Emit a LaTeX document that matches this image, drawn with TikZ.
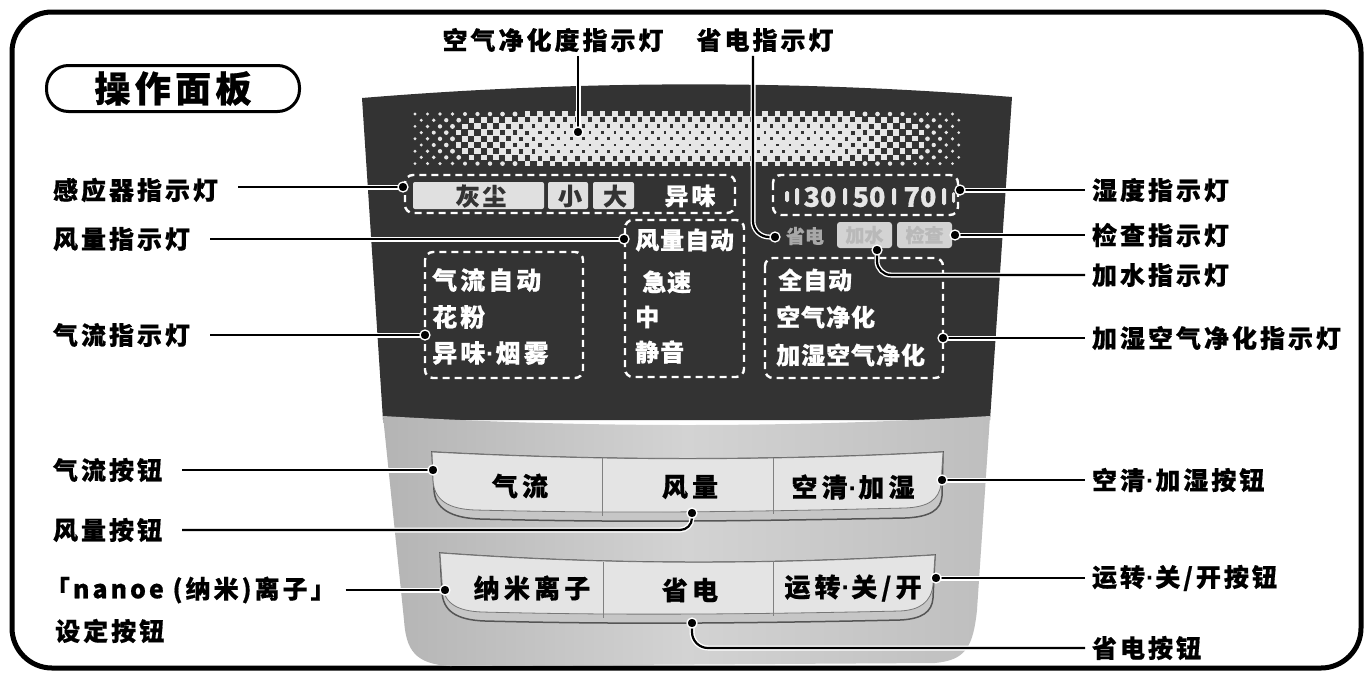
\documentclass[tikz,border=0pt]{standalone}
\usepackage{fontspec}
\setmainfont{Noto Sans CJK SC}[BoldFeatures={FakeBold=0.6}]
\newfontfamily\labfont{Noto Sans CJK SC}[LetterSpace=12,BoldFeatures={FakeBold=0.6}]
\newfontfamily\btnfont{Noto Sans CJK SC}[LetterSpace=16,BoldFeatures={FakeBold=0.6}]
\newfontfamily\panfont{Noto Sans CJK SC}[LetterSpace=4,BoldFeatures={FakeBold=0.6}]
\newfontfamily\titfont{Noto Sans CJK SC}[LetterSpace=12,BoldFeatures={FakeBold=0.8}]
\newfontfamily\dotfont{Liberation Sans}
\newcommand\md{{\dotfont\bfseries\kern1pt·\kern1pt}}
\definecolor{panelc}{HTML}{333333}
\definecolor{dotc}{HTML}{E6E6E6}
\definecolor{lightbox}{HTML}{E0E0E0}
\definecolor{greybox}{HTML}{D3D3D3}
\definecolor{greytxt}{HTML}{B9B9B9}
\definecolor{ecotxt}{HTML}{A8A8A8}
\definecolor{facec}{HTML}{E4E4E4}
\definecolor{lipc}{HTML}{C6C6C6}
\definecolor{lipedge}{HTML}{555555}
\definecolor{faceedge}{HTML}{777777}
\definecolor{grayL}{HTML}{B4B4B4}
\definecolor{grayM}{HTML}{D3D3D3}
\definecolor{grayR}{HTML}{BEBEBE}
\begin{document}
\begin{tikzpicture}[x=1pt,y=-1pt,
  lab/.style={font=\labfont\bfseries\fontsize{25}{30}\selectfont, inner sep=0pt},
  llab/.style={lab, anchor=west, outer xsep=20pt},
  rlab/.style={lab, anchor=west, outer xsep=7pt},
  tlab/.style={lab, outer ysep=4pt},
  conn/.style={line width=2.2pt, black, preaction={draw=white, line width=5pt}},
  dotn/.style={circle, fill=black, draw=white, line width=1.3pt, minimum size=10pt, inner sep=0pt},
  dbox/.style={draw=white, line width=2.4pt, dash pattern=on 7pt off 5pt, rounded corners=8pt},
  pan/.style={font=\panfont\bfseries\fontsize{24}{28}\selectfont, text=white, inner sep=0pt, anchor=west},
  pan26/.style={font=\labfont\bfseries\fontsize{25}{28}\selectfont, text=white, inner sep=0pt, anchor=west},
  sens/.style={font=\labfont\bfseries\fontsize{24}{28}\selectfont, inner sep=0pt},
  btn/.style={font=\btnfont\bfseries\fontsize{26}{30}\selectfont, inner sep=0pt, text=black},
  small/.style={font=\bfseries\fontsize{19}{22}\selectfont, inner sep=0pt},
  digit/.style={font=\bfseries\fontsize{27}{28}\selectfont, text=dotc, inner sep=0pt},
  facest/.style={fill=facec, draw=faceedge, line width=0.8pt},
  lipst/.style={fill=lipc, draw=lipedge, line width=1.5pt},
  divst/.style={draw=gray, line width=1pt},
  bar/.style={fill=dotc, rounded corners=1.5pt}]
\useasboundingbox (0,0) rectangle (1365,675);
\fill[white] (0,0) rectangle (1365,675);
% outer frame
\draw[line width=5pt, rounded corners=40pt] (12,12) rectangle (1361,668);
% title
\node[draw, line width=3pt, rounded corners=22pt, minimum width=253pt, minimum height=46pt,
  font=\titfont\bfseries\fontsize{36}{40}\selectfont, inner sep=0pt] (title) at (173,88.5) {操作面板};
% dark panel
\fill[panelc] (362,98) .. controls (580,80) and (800,80) .. (1012,97) -- (990,420) -- (383,420) -- cycle;
% halftone dots
\foreach \i in {0,...,87}{
 \foreach \j in {0,...,8}{
  \pgfmathtruncatemacro{\parity}{mod(\i+\j,2)}
  \ifnum\parity=0
   \pgfmathsetmacro{\px}{415+6.25*\i}
   \pgfmathsetmacro{\py}{114+6.2*\j}
   \pgfmathsetmacro{\den}{max(0,min(1,(\px-412)/140,(961-\px)/130))}
   \pgfmathsetmacro{\rowf}{(\j==0||\j==8)?0.4:((\j==1||\j==7)?0.8:1)}
   \pgfmathsetmacro{\sz}{3+6.6*\den*\rowf}
   \pgfmathsetmacro{\hs}{\sz/2}
   \ifdim\sz pt<5pt
     \fill[dotc] (\px,\py) circle[radius=\hs pt];
   \else
     \fill[dotc] (\px-\hs,\py-\hs) rectangle (\px+\hs,\py+\hs);
   \fi
  \fi
 }
}
% light button area
\shade[left color=grayL, right color=grayR, middle color=grayM]
  (383,416) .. controls (585,428) and (790,428) .. (990,416) -- (977,610)
  .. controls (973,648) and (965,660) .. (935,663) -- (450,666)
  .. controls (415,664) and (406,650) .. (404,620) -- cycle;
% button row 1
\filldraw[lipst] (432,452) .. controls (600,461) and (775,461) .. (943,452) -- (942,496)
  .. controls (941,510) and (930,517) .. (905,518) .. controls (700,522) and (600,522) .. (480,519)
  .. controls (450,518) and (435,508) .. (434,490) -- cycle;
\filldraw[facest] (432,452) .. controls (600,461) and (775,461) .. (943,452) -- (941,484)
  .. controls (939,500) and (928,507) .. (905,508) .. controls (700,513) and (600,513) .. (475,510)
  .. controls (448,509) and (434,500) .. (433,480) -- cycle;
\draw[divst] (602,458) -- (602,516);
\draw[divst] (773,458) -- (773,514);
% button row 2
\filldraw[lipst] (440,553) .. controls (605,565) and (770,565) .. (935,555) -- (933,598)
  .. controls (932,612) and (922,619) .. (900,620) .. controls (720,624) and (600,624) .. (485,621)
  .. controls (455,620) and (443,610) .. (442,592) -- cycle;
\filldraw[facest] (440,553) .. controls (605,565) and (770,565) .. (935,555) -- (933,585)
  .. controls (931,602) and (920,610) .. (900,611) .. controls (720,615) and (600,615) .. (482,612)
  .. controls (455,611) and (443,602) .. (442,582) -- cycle;
\draw[divst] (603,562) -- (603,618);
\draw[divst] (773,561) -- (773,616);
% button labels
\node[btn] (bAir) at (520,486) {气流};
\node[btn] (bFan) at (690,487) {风量};
\node[btn] (bHum) at (853,487) {空清\md 加湿};
\node[btn] (bNano) at (532,588) {纳米离子};
\node[btn] (bEco) at (690,590) {省电};
\node[btn] (bRun) at (853,588) {运转\md 关/开};
% sensor row
\draw[dbox] (405,175) rectangle (735,213);
\fill[lightbox, rounded corners=2pt] (413,182) rectangle (544,209);
\fill[lightbox, rounded corners=2pt] (548,182) rectangle (588,209);
\fill[lightbox, rounded corners=2pt] (593,182) rectangle (634,209);
\node[sens, text=panelc] (sDust) at (481,196) {灰尘};
\node[sens, text=panelc] (sSmall) at (570,196) {小};
\node[sens, text=panelc] (sBig) at (615,196) {大};
\node[sens, text=white] (sOdor) at (690,196) {异味};
% humidity row
\draw[dbox] (773,175) rectangle (958,215);
\fill[bar] (785,191) rectangle (789,202);
\fill[bar] (795,188) rectangle (799,205);
\node[digit] (h30) at (820,197) {30};
\fill[bar] (843,188) rectangle (847,205);
\node[digit] (h50) at (869,197) {50};
\fill[bar] (892,188) rectangle (896,205);
\node[digit] (h70) at (920,197) {70};
\fill[bar] (942,188) rectangle (946,205);
\fill[bar] (952,192) rectangle (955,203);
% eco / water / check
\node[small, text=ecotxt] (iEco) at (805,236) {省电};
\fill[greybox, rounded corners=3pt] (837,222) rectangle (892,248);
\fill[greybox, rounded corners=3pt] (897,222) rectangle (952,248);
\node[small, text=greytxt] (iWater) at (864.5,235) {加水};
\node[small, text=greytxt] (iCheck) at (924.5,235) {检查};
% fan box
\draw[dbox] (625,220) rectangle (744,377);
\node[pan] (fAuto) at (635,240) {风量自动};
\node[pan] (fTurbo) at (642,282) {急速};
\node[pan] (fMid) at (635,317) {中};
\node[pan] (fQuiet) at (635,352) {静音};
% airflow box
\draw[dbox] (425,252) rectangle (583,378);
\node[pan26] (aAuto) at (432,280) {气流自动};
\node[pan26] (aPollen) at (432,317) {花粉};
\node[pan26] (aOdor) at (432,353) {异味\md 烟雾};
% humidify box
\draw[dbox] (765,258) rectangle (943,378);
\node[pan] (mAuto) at (778,280) {全自动};
\node[pan] (mClean) at (776,317) {空气净化};
\node[pan] (mHum) at (776,355) {加湿空气净化};
% labels
\node[tlab] (tAir) at (553,40) {空气净化度指示灯};
\node[tlab] (tEco) at (765,40) {省电指示灯};
\node[llab] (lSensor) at (33,190) {感应器指示灯};
\node[llab] (lFan) at (33,239) {风量指示灯};
\node[llab] (lFlow) at (33,335) {气流指示灯};
\node[llab] (lFlowBtn) at (33,470) {气流按钮};
\node[llab] (lFanBtn) at (33,530) {风量按钮};
\node[lab, anchor=west, outer xsep=10pt] (lNano) at (35,590) {「nanoe (纳米)离子」};
\node[lab, anchor=west] (lSet) at (55,631) {设定按钮};
\node[rlab] (rHum) at (1085,190) {湿度指示灯};
\node[rlab] (rCheck) at (1085,235) {检查指示灯};
\node[rlab] (rWater) at (1085,275) {加水指示灯};
\node[rlab] (rMode) at (1085,338) {加湿空气净化指示灯};
\node[rlab] (rHumBtn) at (1085,480) {空清\md 加湿按钮};
\node[rlab] (rRunBtn) at (1085,578) {运转\md 关/开按钮};
\node[rlab] (rEcoBtn) at (1085,648) {省电按钮};
% connector end points
\coordinate (cAir) at (578,132);
\coordinate (cEcoInd) at (775,237);
\coordinate (cSensor) at (403,187);
\coordinate (cFan) at (624,239);
\coordinate (cFlow) at (425,335);
\coordinate (cFlowBtn) at (433,470);
\coordinate (cFanBtn) at (692,513);
\coordinate (cNano) at (445,590);
\coordinate (cHum) at (960,190);
\coordinate (cCheck) at (955,235);
\coordinate (cWater) at (877,250);
\coordinate (cMode) at (943,338);
\coordinate (cHumBtn) at (942,480);
\coordinate (cRunBtn) at (936,578);
\coordinate (cEcoBtn) at (692,623);
% connectors
\draw[conn] (tAir.south -| cAir) -- (cAir);
\draw[conn, rounded corners=16pt] ([xshift=-12pt]tEco.south) |- (cEcoInd);
\draw[conn] (lSensor.east |- cSensor) -- (cSensor);
\draw[conn] (lFan.east |- cFan) -- (cFan);
\draw[conn] (lFlow.east |- cFlow) -- (cFlow);
\draw[conn] (lFlowBtn.east |- cFlowBtn) -- (cFlowBtn);
\draw[conn, rounded corners=12pt] (cFanBtn) |- (lFanBtn.east);
\draw[conn] (lNano.east |- cNano) -- (cNano);
\draw[conn] (cHum) -- (rHum.west |- cHum);
\draw[conn] (cCheck) -- (rCheck.west |- cCheck);
\draw[conn, rounded corners=14pt] (cWater) |- (rWater.west);
\draw[conn] (cMode) -- (rMode.west |- cMode);
\draw[conn] (cHumBtn) -- (rHumBtn.west |- cHumBtn);
\draw[conn] (cRunBtn) -- (rRunBtn.west |- cRunBtn);
\draw[conn, rounded corners=16pt] (cEcoBtn) |- (rEcoBtn.west);
% dots
\foreach \c in {cAir,cEcoInd,cSensor,cFan,cFlow,cFlowBtn,cFanBtn,cNano,cHum,cCheck,cWater,cMode,cHumBtn,cRunBtn,cEcoBtn}
  \node[dotn] (d\c) at (\c) {};
\end{tikzpicture}
\end{document}
